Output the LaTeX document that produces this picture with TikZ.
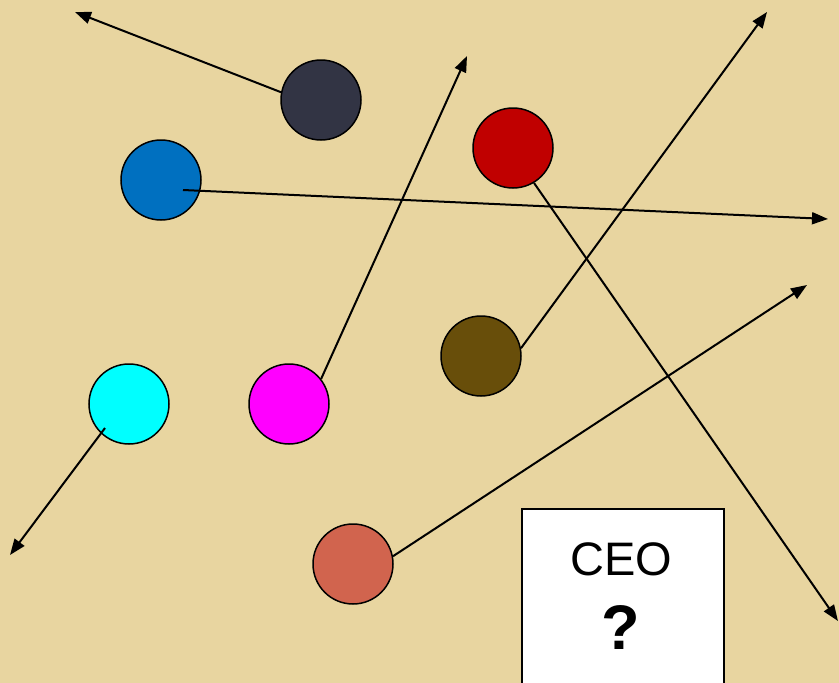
\documentclass[tikz,border=0pt]{standalone}
\usepackage{fontspec}
\setmainfont{Liberation Sans}
\usetikzlibrary{arrows.meta}
\definecolor{papyrus}{RGB}{232,213,160}
\definecolor{cdark}{RGB}{50,52,68}
\definecolor{cblue}{RGB}{0,112,192}
\definecolor{cred}{RGB}{192,0,0}
\definecolor{cbrown}{RGB}{104,78,10}
\definecolor{ccyan}{RGB}{0,255,255}
\definecolor{cmag}{RGB}{255,0,255}
\definecolor{csalmon}{RGB}{209,100,78}
\tikzset{
  ball/.style={circle, draw=black, line width=1.5pt, minimum size=80pt, inner sep=0pt},
  con/.style={line width=2pt, -{Triangle[length=16pt,width=12pt]}},
}
\begin{document}
\begin{tikzpicture}[x=1pt,y=-1pt]
\useasboundingbox (0,0) rectangle (839,683);
\clip (0,0) rectangle (839,683);
\fill[papyrus] (0,0) rectangle (839,683);
% circles
\node[ball, fill=cdark] (dark) at (321,100) {};
\node[ball, fill=cblue] (blue) at (161,180) {};
\node[ball, fill=cred] (red) at (513,148) {};
\node[ball, fill=cbrown] (brown) at (481,356) {};
\node[ball, fill=ccyan] (cyan) at (129,404) {};
\node[ball, fill=cmag] (mag) at (289,404) {};
\node[ball, fill=csalmon] (salmon) at (353,564) {};
% CEO box
\node[draw=black, line width=1.5pt, fill=white, minimum width=202pt, minimum height=200pt, anchor=north west, inner sep=0pt] (ceo) at (521,508) {};
\node[font=\fontsize{47}{50}\selectfont] (ceotext) at (621,559) {CEO};
\node[font=\fontsize{63}{65}\selectfont\bfseries] (q) at (621,627) {?};
% free ends
\coordinate (e1) at (75,12);
\coordinate (e2) at (828,219);
\coordinate (e3) at (838,621);
\coordinate (e4) at (767,12);
\coordinate (e5) at (10,555);
\coordinate (e6) at (467,56);
\coordinate (e7) at (807,285);
\coordinate (s2) at ([shift={(22pt,-10pt)}]blue.center);
\coordinate (s5) at ([shift={(-24pt,-24pt)}]cyan.center);
% connectors
\draw[con] (dark.169) -- (e1);
\draw[con] (s2) -- (e2);
\draw[con] (red.-59) -- (e3);
\draw[con] (brown.11) -- (e4);
\draw[con] (s5) -- (e5);
\draw[con] (mag.38) -- (e6);
\draw[con] (salmon.11) -- (e7);
\end{tikzpicture}
\end{document}
